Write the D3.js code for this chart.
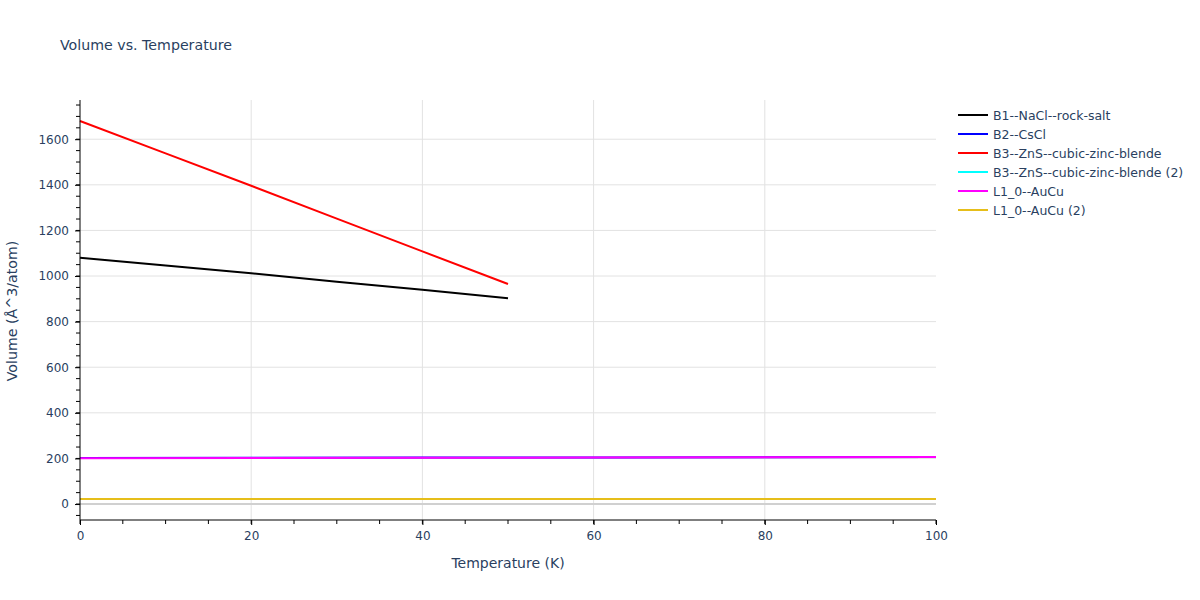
<!DOCTYPE html>
<html><head><meta charset="utf-8">
<script src="https://cdn.jsdelivr.net/npm/d3@7"></script>
<style>body{margin:0;background:#fff;} text{font-family:"DejaVu Sans",sans-serif;}</style>
</head><body><svg id="c" width="1200" height="600"></svg>
<script>
const seriesNames = ["B1--NaCl--rock-salt","B2--CsCl","B3--ZnS--cubic-zinc-blende","B3--ZnS--cubic-zinc-blende (2)","L1_0--AuCu","L1_0--AuCu (2)"];
const seriesColors = ["#000000","#0000ff","#ff0000","#00ffff","#ff00ff","#e6be1a"];
const tempShort = [0,10,20,30,40,50];
const tempLong = [0,20,40,60,80,100];
const b1Values = [1080,1046,1012,975,940,903];
const b2Values = [202,203,204,204,205,206];
const b3Values = [1680,1538,1396,1252,1108,965];
const b3bValues = [22,22,22,22,22,22];
const l10Values = [201,202,203,204,205,206];
const l10bValues = [22,22,22,22,22,22];
const xTicks = [0,20,40,60,80,100];
const yTicks = [0,200,400,600,800,1000,1200,1400,1600];

const series = [
  {x: tempShort, y: b1Values},
  {x: tempLong, y: b2Values},
  {x: tempShort, y: b3Values},
  {x: tempLong, y: b3bValues},
  {x: tempLong, y: l10Values},
  {x: tempLong, y: l10bValues}
];

const svg = d3.select("#c");
const L=80, R=936, T=100, B=520;
const x = d3.scaleLinear().domain([0,100]).range([L,R]);
const y = d3.scaleLinear().domain([-70,1772]).range([B,T]);
const txt = "#2a3f5f";
const ff = "DejaVu Sans, sans-serif";

// grid
svg.append("g").selectAll("line").data(xTicks.filter(d=>d>0&&d<100)).join("line")
  .attr("x1",d=>x(d)).attr("x2",d=>x(d)).attr("y1",T).attr("y2",B)
  .attr("stroke","#e2e2e2").attr("stroke-width",1);
svg.append("g").selectAll("line").data(yTicks.filter(d=>d!==0)).join("line")
  .attr("x1",L).attr("x2",R).attr("y1",d=>y(d)).attr("y2",d=>y(d))
  .attr("stroke","#e2e2e2").attr("stroke-width",1);
svg.append("line").attr("x1",L).attr("x2",R).attr("y1",y(0)).attr("y2",y(0))
  .attr("stroke","#d0d0d0").attr("stroke-width",2);

// lines
const line = d3.line().x(d=>x(d[0])).y(d=>y(d[1]));
series.forEach((s,i)=>{
  svg.append("path").datum(s.x.map((v,j)=>[v,s.y[j]]))
    .attr("d",line).attr("fill","none").attr("stroke",seriesColors[i]).attr("stroke-width",2);
});

// axes
const xAxis = d3.axisBottom(x).tickValues(xTicks).tickFormat(d3.format("d")).tickSize(5).tickPadding(6);
const gx = svg.append("g").attr("transform",`translate(0,${B})`).call(xAxis);
gx.selectAll(".tick line").attr("stroke","#000");
gx.select(".domain").attr("stroke","#000").attr("d",`M${L},0H${R}`);
const xMinor = d3.range(0,101,5);
svg.append("g").selectAll("line").data(xMinor).join("line")
  .attr("x1",d=>x(d)).attr("x2",d=>x(d)).attr("y1",B).attr("y2",B+4).attr("stroke","#000");
gx.selectAll("text").attr("fill",txt).attr("font-size",12).attr("font-family",ff);

const yAxis = d3.axisLeft(y).tickValues(yTicks).tickFormat(d3.format("d")).tickSize(5).tickPadding(6);
const gy = svg.append("g").attr("transform",`translate(${L},0)`).call(yAxis);
gy.selectAll(".tick line").attr("stroke","#000");
gy.select(".domain").attr("stroke","#000").attr("d",`M0,${T}V${B}`);
const yMinor = d3.range(-50,1751,50);
svg.append("g").selectAll("line").data(yMinor).join("line")
  .attr("x1",L-4).attr("x2",L).attr("y1",d=>y(d)).attr("y2",d=>y(d)).attr("stroke","#000");
gy.selectAll("text").attr("fill",txt).attr("font-size",12).attr("font-family",ff);

// titles
svg.append("text").attr("x",60).attr("y",50).attr("fill",txt).attr("font-size",14.2).text("Volume vs. Temperature");
svg.append("text").attr("x",(L+R)/2).attr("y",568).attr("text-anchor","middle").attr("fill",txt).attr("font-size",14).text("Temperature (K)");
svg.append("text").attr("transform",`translate(17,${(T+B)/2 + 1}) rotate(-90)`).attr("text-anchor","middle").attr("fill",txt).attr("font-size",14.2).text("Volume (Å^3/atom)");

// legend
const lg = svg.append("g").attr("transform","translate(958,115)");
seriesNames.forEach((n,i)=>{
  const g = lg.append("g").attr("transform",`translate(0,${i*19})`);
  g.append("line").attr("x1",0).attr("x2",30).attr("y1",0).attr("y2",0).attr("stroke",seriesColors[i]).attr("stroke-width",2);
  g.append("text").attr("x",35).attr("y",4.5).attr("fill",txt).attr("font-size",12.5).text(n);
});
</script></body></html>
